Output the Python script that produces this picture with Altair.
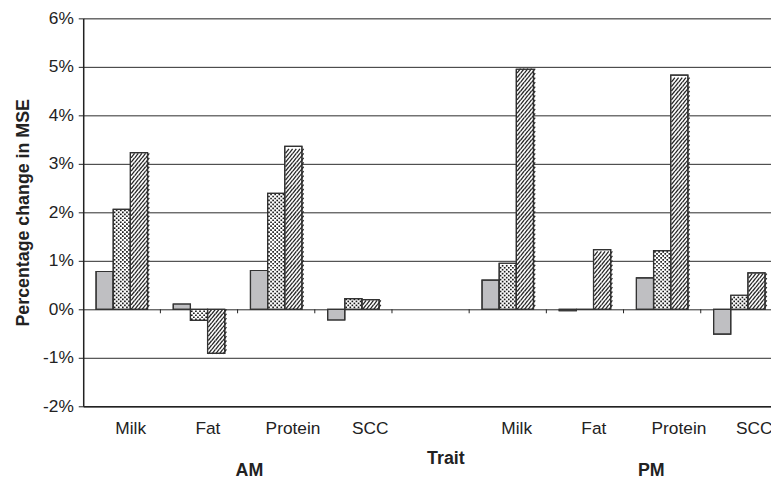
import altair as alt
import pandas as pd

# ---------------- data ----------------
categories = ["AM Milk", "AM Fat", "AM Protein", "AM SCC", "gap",
              "PM Milk", "PM Fat", "PM Protein", "PM SCC"]
bar_categories = ["AM Milk", "AM Fat", "AM Protein", "AM SCC",
                  "PM Milk", "PM Fat", "PM Protein", "PM SCC"]
series_names = ["Series 1", "Series 2", "Series 3"]
series1 = [0.78, 0.11, 0.80, -0.22, 0.60, -0.03, 0.65, -0.51]
series2 = [2.06, -0.23, 2.39, 0.22, 0.95, 0.00, 1.21, 0.29]
series3 = [3.23, -0.91, 3.36, 0.20, 4.95, 1.23, 4.83, 0.75]
y_ticks = [-2, -1, 0, 1, 2, 3, 4, 5, 6]
group_labels = ["AM", "PM"]

rows = []
for name, vals in zip(series_names, [series1, series2, series3]):
    for c, v in zip(bar_categories, vals):
        rows.append({"cat": c, "series": name, "value": v})
df = pd.DataFrame(rows)
tick_df = pd.DataFrame({"cat": categories[1:]})

FONT = "Liberation Sans"
INK = "#222222"
YTITLE = "Percentage change in MSE"
PLOT_W, PLOT_H = 702, 392
PX_PER_UNIT = PLOT_H / 8.0


def xs():
    return alt.Scale(domain=categories, paddingInner=1 / 3, paddingOuter=1 / 6)


xo_scale = alt.Scale(domain=series_names, paddingInner=0, paddingOuter=0)
y_scale = alt.Scale(domain=[-2, 6], nice=False, zero=False)

label_expr = "indexof(datum.value, ' ') > 0 ? substring(datum.value, indexof(datum.value, ' ') + 1) : ''"

x_axis = alt.Axis(
    labelExpr=label_expr,
    orient="bottom", labelAngle=0, ticks=False, tickSize=0, labelPadding=13,
    labelOffset={"condition": [
        {"test": "datum.value == 'PM SCC'", "value": 15},
        {"test": "indexof(datum.value, 'Protein') >= 0 || datum.value == 'AM SCC'", "value": 17},
    ], "value": 9},
    labelFont=FONT, labelFontSize=17.5, labelColor=INK,
    domainColor=INK, domainWidth=1.5, grid=False,
    titleFont=FONT, titleFontSize=18, titleFontWeight="bold", titleColor=INK,
    titleX=366, titleY=58, titleAlign="center", titleBaseline="alphabetic",
    titleAnchor="start")

y_axis = alt.Axis(values=y_ticks, labelExpr="datum.value + '%'",
                  grid=True, gridColor="#2a2a2a", gridWidth=1,
                  tickSize=5, tickColor=INK, domainColor=INK, domainWidth=1.5,
                  labelPadding=5, labelFont=FONT, labelFontSize=17.5,
                  labelColor=INK, titleFont=FONT, titleFontSize=18,
                  titleFontWeight="bold", titleColor=INK, titlePadding=10)

bars = alt.Chart(df).mark_bar(stroke="#333333", strokeWidth=1.2).encode(
    x=alt.X("cat:N", scale=xs(), title="Trait", axis=x_axis),
    xOffset=alt.XOffset("series:N", scale=xo_scale),
    y=alt.Y("value:Q", scale=y_scale, title=YTITLE, axis=y_axis),
    color=alt.Color("series:N", scale=alt.Scale(domain=series_names,
                    range=["#bfbfc2", "#ffffff", "#ffffff"]), legend=None),
)

# dotted texture for series 2 (sub-columns of 2 px inside the 52 px band)
DST = 2.0 / PX_PER_UNIT
dots = alt.Chart(df).transform_filter(
    alt.datum.series == series_names[1]
).transform_filter("datum.value != 0").transform_calculate(
    ys=f"sequence({DST}, abs(datum.value) - {0.3 * DST}, {DST})"
).transform_flatten(["ys"]).transform_calculate(
    value="datum.value < 0 ? -datum.ys : datum.ys",
    col=f"round(datum.ys / {DST}) % 2 == 1 ? [9, 11, 13, 15] : [10, 12, 14, 16]",
).transform_flatten(["col"]).mark_square(
    size=2.8, color="#1a1a1a", opacity=1
).encode(
    x=alt.X("cat:N", scale=xs(), axis=None),
    xOffset=alt.XOffset("col:O", scale=alt.Scale(domain=list(range(26)),
                        paddingInner=0, paddingOuter=0)),
    y=alt.Y("value:Q", scale=y_scale, title=YTITLE),
)

# hatched texture for series 3 (5 diagonal cells across each bar)
CW = 52 / 15            # cell width in px
HALF = 0.77             # half-width of the glyph in its [-1, 1] box
CH = CW / HALF          # cell height in px (= glyph box side)
CST = CH / PX_PER_UNIT
hatch = alt.Chart(df).transform_filter(
    alt.datum.series == series_names[2]
).transform_calculate(
    ys=f"sequence({CST / 2}, abs(datum.value) - {CST * 0.3}, {CST})"
).transform_flatten(["ys"]).transform_calculate(
    value="datum.value < 0 ? -datum.ys : datum.ys",
    col="[10, 11, 12, 13, 14]",
).transform_flatten(["col"]).mark_point(
    shape=f"M-{HALF},1L{HALF},-1", filled=False, color="#262626", strokeWidth=1.3,
    size=CH * CH, opacity=1
).encode(
    x=alt.X("cat:N", scale=xs(), axis=None),
    xOffset=alt.XOffset("col:O", scale=alt.Scale(domain=list(range(15)),
                        paddingInner=0, paddingOuter=0)),
    y=alt.Y("value:Q", scale=y_scale, title=YTITLE),
)

outline = alt.Chart(df).mark_bar(fillOpacity=0, stroke="#333333", strokeWidth=1.2).encode(
    x=alt.X("cat:N", scale=xs(), axis=None),
    xOffset=alt.XOffset("series:N", scale=xo_scale),
    y=alt.Y("value:Q", scale=y_scale, title=YTITLE),
)

# small category ticks hanging from the 0% line, at category boundaries
ticks = alt.Chart(tick_df).mark_rule(color=INK, strokeWidth=1).encode(
    x=alt.X("cat:N", scale=alt.Scale(domain=categories, paddingInner=0, paddingOuter=0),
            bandPosition=0, axis=None),
    y=alt.YDatum(0),
    y2=alt.Y2Datum(-4.0 / PX_PER_UNIT),
)

group_df = pd.DataFrame({"label": group_labels})
am_text = alt.Chart(group_df).transform_filter(alt.datum.label == "AM").mark_text(
    font=FONT, fontSize=18, fontWeight="bold", color=INK, align="center",
    baseline="alphabetic").encode(text="label:N", x=alt.value(168), y=alt.value(462))
pm_text = alt.Chart(group_df).transform_filter(alt.datum.label == "PM").mark_text(
    font=FONT, fontSize=18, fontWeight="bold", color=INK, align="center",
    baseline="alphabetic").encode(text="label:N", x=alt.value(574), y=alt.value(462))

chart = alt.layer(bars, dots, hatch, outline, ticks, am_text, pm_text).resolve_scale(
    x="independent", xOffset="independent"
).properties(
    width=PLOT_W, height=PLOT_H,
    autosize=alt.AutoSizeParams(type="none"),
    padding={"left": 76, "top": 8, "right": -7, "bottom": 71},
).configure_view(stroke="transparent", strokeWidth=0).configure(background="white")

chart.save("out.html", embed_options={"renderer": "svg", "actions": False})
